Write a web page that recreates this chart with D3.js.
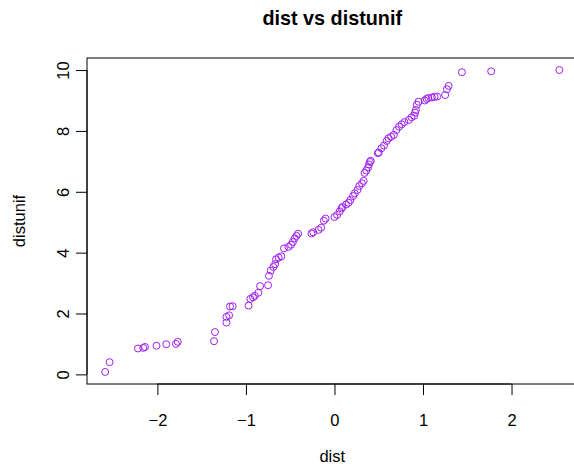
<!DOCTYPE html>
<html>
<head>
<meta charset="utf-8">
<script src="https://cdn.jsdelivr.net/npm/d3@7"></script>
<style>
  html, body { margin: 0; padding: 0; background: #ffffff; }
  svg { display: block; }
  text { font-family: "Liberation Sans", Arial, Helvetica, sans-serif; fill: #000; }
</style>
</head>
<body>
<div id="chart"></div>
<script>
// Sorted sample values (qqplot of dist vs distunif)
const distValues = [
  -2.59, -2.54, -2.22, -2.16, -2.14, -2.01, -1.90, -1.79, -1.77, -1.36,
  -1.35, -1.22, -1.22, -1.19, -1.18, -1.15, -0.97, -0.95, -0.92, -0.90,
  -0.86, -0.84, -0.75, -0.74, -0.72, -0.69, -0.67, -0.66, -0.63, -0.60,
  -0.57, -0.52, -0.49, -0.47, -0.45, -0.43, -0.41, -0.26, -0.24, -0.18,
  -0.15, -0.12, -0.10, 0.00, 0.03, 0.06, 0.08, 0.09, 0.13, 0.16,
  0.18, 0.21, 0.23, 0.26, 0.28, 0.31, 0.33, 0.34, 0.36, 0.38,
  0.39, 0.40, 0.41, 0.49, 0.50, 0.53, 0.56, 0.59, 0.61, 0.64,
  0.67, 0.70, 0.73, 0.76, 0.79, 0.84, 0.87, 0.90, 0.91, 0.92,
  0.93, 0.95, 1.02, 1.04, 1.06, 1.10, 1.13, 1.16, 1.25, 1.27,
  1.29, 1.44, 1.77, 2.54
];
const distunifValues = [
  0.08, 0.40, 0.85, 0.87, 0.90, 0.94, 0.99, 1.00, 1.07, 1.09,
  1.39, 1.70, 1.89, 1.94, 2.23, 2.24, 2.26, 2.48, 2.53, 2.58,
  2.68, 2.90, 2.93, 3.24, 3.41, 3.53, 3.62, 3.78, 3.84, 3.88,
  4.14, 4.19, 4.26, 4.35, 4.47, 4.55, 4.62, 4.63, 4.67, 4.75,
  4.82, 5.05, 5.12, 5.17, 5.24, 5.36, 5.46, 5.50, 5.58, 5.64,
  5.73, 5.86, 5.95, 6.06, 6.19, 6.28, 6.36, 6.62, 6.70, 6.80,
  6.90, 6.98, 7.02, 7.27, 7.29, 7.43, 7.52, 7.67, 7.76, 7.81,
  7.87, 8.03, 8.14, 8.22, 8.29, 8.36, 8.45, 8.50, 8.60, 8.69,
  8.86, 8.96, 9.00, 9.05, 9.08, 9.10, 9.12, 9.13, 9.18, 9.37,
  9.48, 9.93, 9.96, 10.00
];
const xTicks = [-2, -1, 0, 1, 2];
const yTicks = [0, 2, 4, 6, 8, 10];
const titleText = "dist vs distunif";
const xLabel = "dist";
const yLabel = "distunif";

const W = 574, H = 464;
const plot = { left: 87, right: 577.5, top: 58, bottom: 384 };
const pointColor = "#A020F0";
const fontSize = 16.5;

function rRange(vals) {
  const [lo, hi] = d3.extent(vals);
  const pad = 0.04 * (hi - lo);
  return [lo - pad, hi + pad];
}

const x = d3.scaleLinear().domain(rRange(distValues)).range([plot.left, plot.right]);
const y = d3.scaleLinear().domain(rRange(distunifValues)).range([plot.bottom, plot.top]);

const svg = d3.select("#chart").append("svg")
  .attr("width", W).attr("height", H);

// Points
const pts = distValues.map((d, i) => ({ x: d, y: distunifValues[i] }));
svg.append("g").selectAll("circle").data(pts).join("circle")
  .attr("cx", d => x(d.x))
  .attr("cy", d => y(d.y))
  .attr("r", 3.5)
  .attr("fill", "none")
  .attr("stroke", pointColor)
  .attr("stroke-width", 1);

// Box
svg.append("rect")
  .attr("x", plot.left).attr("y", plot.top)
  .attr("width", plot.right - plot.left).attr("height", plot.bottom - plot.top)
  .attr("fill", "none").attr("stroke", "#000").attr("stroke-width", 1);

// X axis
const xAxis = d3.axisBottom(x).tickValues(xTicks).tickSize(11).tickSizeOuter(0).tickPadding(0)
  .tickFormat(d3.format("d"));
const gx = svg.append("g").attr("transform", `translate(0,${plot.bottom})`).call(xAxis);
gx.select(".domain").attr("stroke", "#000")
  .attr("d", `M${x(xTicks[0])},0H${x(xTicks[xTicks.length - 1])}`);
gx.selectAll(".tick line").attr("stroke", "#000");
gx.selectAll(".tick text")
  .attr("y", 41.5).attr("dy", null)
  .style("font-size", fontSize + "px")
  .style("font-family", "'Liberation Sans', Arial, sans-serif")
  .attr("fill", "#000");

// Y axis
const yAxis = d3.axisLeft(y).tickValues(yTicks).tickSize(11).tickSizeOuter(0).tickPadding(0)
  .tickFormat(d3.format("d"));
const gy = svg.append("g").attr("transform", `translate(${plot.left},0)`).call(yAxis);
gy.select(".domain").attr("stroke", "#000")
  .attr("d", `M0,${y(yTicks[0])}V${y(yTicks[yTicks.length - 1])}`);
gy.selectAll(".tick line").attr("stroke", "#000");
gy.selectAll(".tick text")
  .attr("x", null).attr("dy", null)
  .attr("text-anchor", "middle")
  .attr("transform", "translate(-18.5,0) rotate(-90)")
  .style("font-size", fontSize + "px")
  .style("font-family", "'Liberation Sans', Arial, sans-serif")
  .attr("fill", "#000");

// Title
const cx = (plot.left + plot.right) / 2;
svg.append("text")
  .attr("x", cx).attr("y", 25)
  .attr("text-anchor", "middle")
  .style("font-size", "19.8px").style("font-weight", "bold")
  .text(titleText);

// Axis labels
svg.append("text")
  .attr("x", cx).attr("y", 462)
  .attr("text-anchor", "middle")
  .style("font-size", fontSize + "px")
  .text(xLabel);

const cy = (plot.top + plot.bottom) / 2;
svg.append("text")
  .attr("transform", `translate(25,${cy}) rotate(-90)`)
  .attr("text-anchor", "middle")
  .style("font-size", fontSize + "px")
  .text(yLabel);
</script>
</body>
</html>
